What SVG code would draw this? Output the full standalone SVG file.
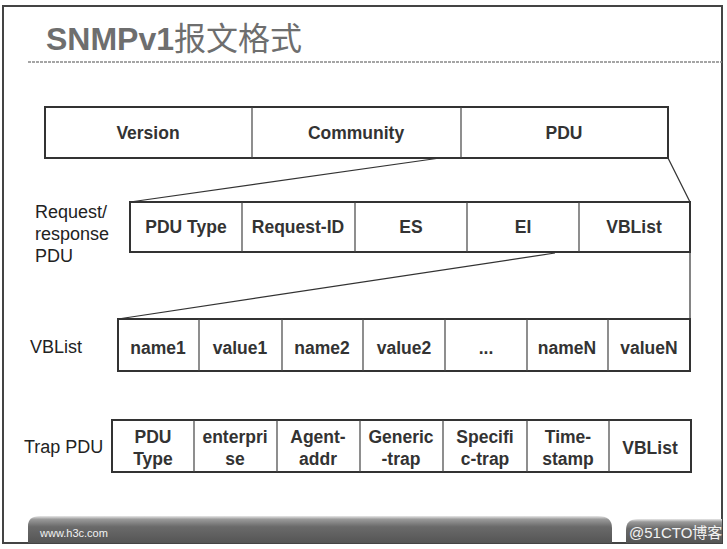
<svg xmlns="http://www.w3.org/2000/svg" width="727" height="549" viewBox="0 0 727 549">
<defs>
<style>
.frame{fill:none;stroke:#444;stroke-width:2}
.box{fill:#fff;stroke:#333;stroke-width:2}
.div{stroke:#444;stroke-width:1.2}
.conn{stroke:#333;stroke-width:1.2;fill:none}
.t{font-family:"Liberation Sans",Arial,sans-serif;font-weight:bold;font-size:17.5px;fill:#333;text-anchor:middle}
.lbl{font-family:"Liberation Sans",Arial,sans-serif;font-size:18px;fill:#222}
.title{font-family:"Liberation Sans","Noto Sans CJK SC",sans-serif;font-size:32px;fill:#6e6e6e}
.foot{font-family:"Liberation Sans","Noto Sans CJK SC",sans-serif;fill:#f2f2f2}
</style>
<linearGradient id="bar" x1="0" y1="0" x2="0" y2="1">
<stop offset="0" stop-color="#e8e8e8"/>
<stop offset="0.12" stop-color="#9a9a9a"/>
<stop offset="0.4" stop-color="#6a6a6a"/>
<stop offset="1" stop-color="#555"/>
</linearGradient>
</defs>
<rect x="0" y="0" width="727" height="549" fill="#fff"/>
<rect class="frame" x="3" y="6" width="719" height="537"/>
<g id="title">
<text class="title" x="46" y="50"><tspan font-weight="bold">SNMPv1</tspan>报文格式</text>
<line x1="28" y1="62" x2="722" y2="62" stroke="#888" stroke-width="1.5" stroke-dasharray="3 1"/>
</g>
<g id="connectors">
<line class="conn" x1="440" y1="158" x2="130" y2="202"/>
<line class="conn" x1="668" y1="158" x2="690" y2="202"/>
<line class="conn" x1="555" y1="253" x2="118" y2="319"/>
<line class="conn" x1="690" y1="252" x2="690" y2="319"/>
</g>
<g id="snmp-message">
<rect class="box" x="45" y="107" width="623" height="51"/>
<line class="div" x1="252" y1="107" x2="252" y2="158"/>
<line class="div" x1="461" y1="107" x2="461" y2="158"/>
<text class="t" x="148" y="139">Version</text>
<text class="t" x="356" y="139">Community</text>
<text class="t" x="564" y="139">PDU</text>
</g>
<g id="request-response-pdu">
<text class="lbl" x="35" y="218">Request/</text>
<text class="lbl" x="35" y="240">response</text>
<text class="lbl" x="35" y="262">PDU</text>
<rect class="box" x="130" y="202" width="560" height="50"/>
<line class="div" x1="242" y1="202" x2="242" y2="252"/>
<line class="div" x1="355" y1="202" x2="355" y2="252"/>
<line class="div" x1="467" y1="202" x2="467" y2="252"/>
<line class="div" x1="579" y1="202" x2="579" y2="252"/>
<text class="t" x="186" y="233">PDU Type</text>
<text class="t" x="298" y="233">Request-ID</text>
<text class="t" x="411" y="233">ES</text>
<text class="t" x="523" y="233">EI</text>
<text class="t" x="634" y="233">VBList</text>
</g>
<g id="vblist">
<text class="lbl" x="30" y="353">VBList</text>
<rect class="box" x="118" y="319" width="572" height="52"/>
<line class="div" x1="199" y1="319" x2="199" y2="371"/>
<line class="div" x1="282" y1="319" x2="282" y2="371"/>
<line class="div" x1="363" y1="319" x2="363" y2="371"/>
<line class="div" x1="445" y1="319" x2="445" y2="371"/>
<line class="div" x1="527" y1="319" x2="527" y2="371"/>
<line class="div" x1="608" y1="319" x2="608" y2="371"/>
<text class="t" x="158" y="354">name1</text>
<text class="t" x="240" y="354">value1</text>
<text class="t" x="322" y="354">name2</text>
<text class="t" x="404" y="354">value2</text>
<text class="t" x="486" y="354">...</text>
<text class="t" x="567" y="354">nameN</text>
<text class="t" x="649" y="354">valueN</text>
</g>
<g id="trap-pdu">
<text class="lbl" x="24" y="453">Trap PDU</text>
<rect class="box" x="112" y="420" width="579" height="52"/>
<line class="div" x1="194" y1="420" x2="194" y2="472"/>
<line class="div" x1="277" y1="420" x2="277" y2="472"/>
<line class="div" x1="360" y1="420" x2="360" y2="472"/>
<line class="div" x1="443" y1="420" x2="443" y2="472"/>
<line class="div" x1="527" y1="420" x2="527" y2="472"/>
<line class="div" x1="609" y1="420" x2="609" y2="472"/>
<text class="t" x="153" y="443">PDU</text><text class="t" x="153" y="465">Type</text>
<text class="t" x="235" y="443">enterpri</text><text class="t" x="235" y="465">se</text>
<text class="t" x="318" y="443">Agent-</text><text class="t" x="318" y="465">addr</text>
<text class="t" x="401" y="443">Generic</text><text class="t" x="401" y="465">-trap</text>
<text class="t" x="485" y="443">Specifi</text><text class="t" x="485" y="465">c-trap</text>
<text class="t" x="568" y="443">Time-</text><text class="t" x="568" y="465">stamp</text>
<text class="t" x="650" y="454">VBList</text>
</g>
<g id="footer">
<path d="M28,543 L28,526 Q28,516 40,516 L598,516 Q612,516 612,528 L612,543 Z" fill="url(#bar)"/>
<path d="M626,543 L626,530 Q626,519 638,519 L722,519 L722,543 Z" fill="url(#bar)"/>
<text class="foot" x="40" y="537" font-size="11">www.h3c.com</text>
<text class="foot" x="629" y="538" font-size="15">@51CTO博客</text>
</g>
</svg>
